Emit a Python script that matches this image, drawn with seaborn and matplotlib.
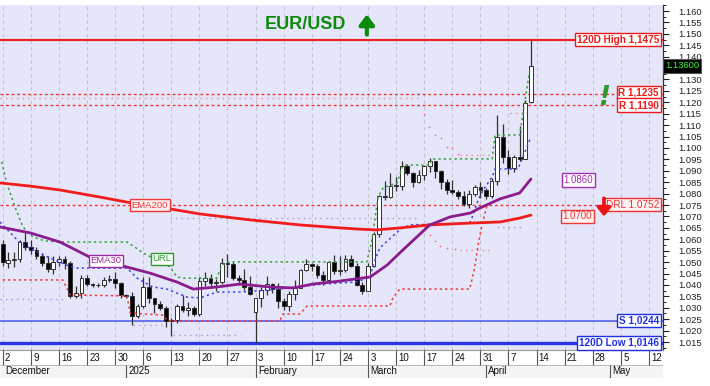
import numpy as np
import pandas as pd
import matplotlib
matplotlib.use("Agg")
import matplotlib.pyplot as plt
from matplotlib.transforms import blended_transform_factory
from matplotlib.ticker import MultipleLocator, FormatStrFormatter
import seaborn as sns

sns.set_style("white")
plt.rcParams['font.family'] = ['Liberation Sans', 'DejaVu Sans']

# ---------------- data ----------------
first_day = "2024-12-02"
last_axis_day = "2025-05-16"

opens = [1.0578, 1.0497, 1.0510, 1.0512, 1.0587, 1.0565, 1.0555, 1.0528, 1.0495, 1.0468,
         1.0502, 1.0512, 1.0494, 1.0352, 1.0364, 1.0430, 1.0406, 1.0398, 1.0400, 1.0422,
         1.0428, 1.0407, 1.0354, 1.0352, 1.0266, 1.0307, 1.0390, 1.0342, 1.0318, 1.0300,
         1.0244, 1.0245, 1.0308, 1.0290, 1.0300, 1.0273, 1.0417, 1.0430, 1.0410, 1.0414,
         1.0494, 1.0492, 1.0430, 1.0421, 1.0391, 1.0280, 1.0345, 1.0380, 1.0404, 1.0382,
         1.0330, 1.0307, 1.0360, 1.0387, 1.0465, 1.0490, 1.0485, 1.0445, 1.0420, 1.0500,
         1.0460, 1.0465, 1.0515, 1.0485, 1.0400, 1.0375, 1.0485, 1.0625, 1.0790, 1.0785,
         1.0835, 1.0833, 1.0920, 1.0890, 1.0852, 1.0880, 1.0920, 1.0942, 1.0900, 1.0852,
         1.0815, 1.0805, 1.0790, 1.0753, 1.0800, 1.0830, 1.0815, 1.0790, 1.0855, 1.1050,
         1.0960, 1.0912, 1.0962, 1.0952, 1.1200]
highs = [1.0595, 1.0545, 1.0545, 1.0595, 1.0630, 1.0595, 1.0565, 1.0540, 1.0525, 1.0525,
         1.0525, 1.0525, 1.0505, 1.0395, 1.0445, 1.0445, 1.0410, 1.0408, 1.0435, 1.0445,
         1.0455, 1.0415, 1.0360, 1.0370, 1.0315, 1.0435, 1.0435, 1.0345, 1.0330, 1.0310,
         1.0255, 1.0315, 1.0355, 1.0325, 1.0310, 1.0435, 1.0455, 1.0450, 1.0425, 1.0520,
         1.0535, 1.0500, 1.0445, 1.0470, 1.0440, 1.0345, 1.0390, 1.0440, 1.0410, 1.0410,
         1.0345, 1.0375, 1.0420, 1.0470, 1.0515, 1.0495, 1.0490, 1.0460, 1.0505, 1.0530,
         1.0525, 1.0530, 1.0530, 1.0495, 1.0415, 1.0495, 1.0630, 1.0795, 1.0855, 1.0890,
         1.0875, 1.0945, 1.0930, 1.0895, 1.0905, 1.0925, 1.0955, 1.0945, 1.0905, 1.0865,
         1.0860, 1.0815, 1.0810, 1.0815, 1.0840, 1.0850, 1.0825, 1.0870, 1.1145, 1.1105,
         1.0990, 1.0970, 1.1095, 1.1210, 1.1475]
lows = [1.0485, 1.0475, 1.0480, 1.0500, 1.0555, 1.0535, 1.0515, 1.0485, 1.0455, 1.0450,
        1.0485, 1.0470, 1.0345, 1.0345, 1.0345, 1.0395, 1.0390, 1.0392, 1.0390, 1.0412,
        1.0385, 1.0345, 1.0345, 1.0225, 1.0255, 1.0300, 1.0320, 1.0275, 1.0290, 1.0215,
        1.0178, 1.0235, 1.0280, 1.0265, 1.0265, 1.0265, 1.0395, 1.0395, 1.0375, 1.0405,
        1.0435, 1.0420, 1.0400, 1.0380, 1.0355, 1.0146, 1.0305, 1.0355, 1.0365, 1.0300,
        1.0290, 1.0285, 1.0335, 1.0385, 1.0460, 1.0460, 1.0430, 1.0400, 1.0415, 1.0450,
        1.0445, 1.0455, 1.0480, 1.0395, 1.0360, 1.0375, 1.0480, 1.0610, 1.0770, 1.0780,
        1.0810, 1.0815, 1.0880, 1.0830, 1.0845, 1.0860, 1.0895, 1.0870, 1.0820, 1.0800,
        1.0800, 1.0775, 1.0745, 1.0735, 1.0790, 1.0780, 1.0775, 1.0780, 1.0840, 1.0935,
        1.0885, 1.0895, 1.0945, 1.0950, 1.1195]
closes = [1.0500, 1.0510, 1.0512, 1.0587, 1.0567, 1.0555, 1.0528, 1.0495, 1.0468, 1.0502,
          1.0512, 1.0494, 1.0352, 1.0364, 1.0430, 1.0406, 1.0398, 1.0400, 1.0422, 1.0428,
          1.0407, 1.0354, 1.0352, 1.0266, 1.0307, 1.0390, 1.0342, 1.0318, 1.0300, 1.0244,
          1.0245, 1.0308, 1.0290, 1.0300, 1.0273, 1.0417, 1.0430, 1.0410, 1.0414, 1.0494,
          1.0492, 1.0430, 1.0421, 1.0391, 1.0362, 1.0345, 1.0380, 1.0404, 1.0382, 1.0330,
          1.0307, 1.0360, 1.0387, 1.0465, 1.0490, 1.0485, 1.0445, 1.0420, 1.0500, 1.0460,
          1.0465, 1.0515, 1.0485, 1.0400, 1.0375, 1.0485, 1.0625, 1.0790, 1.0785, 1.0835,
          1.0833, 1.0920, 1.0890, 1.0852, 1.0880, 1.0920, 1.0942, 1.0900, 1.0852, 1.0815,
          1.0805, 1.0790, 1.0753, 1.0800, 1.0830, 1.0815, 1.0790, 1.0855, 1.1050, 1.0960,
          1.0912, 1.0960, 1.0952, 1.1195, 1.1360]

# indicator curves (x = trading-day number from 2 Dec)
ema200_x = [-0.5, 4.9, 10.2, 17.3, 22.1, 29.8, 35.1, 44.0, 52.9, 60.0, 63.0, 66.5, 70.7, 76.0, 83.2, 88.5, 92.0, 94.0]
ema200_y = [1.0847, 1.0833, 1.0816, 1.0785, 1.0763, 1.0733, 1.0711, 1.0685, 1.0663, 1.0650, 1.0645, 1.0641, 1.0650,
            1.0663, 1.0671, 1.0676, 1.0693, 1.0706]
ema30_x = [-0.5, 4.9, 10.2, 15.5, 21.4, 26.2, 31.0, 33.9, 38.1, 42.2, 47.6, 51.7, 55.2, 60.0, 65.4, 68.4, 71.2,
           76.0, 79.6, 83.2, 84.9, 88.5, 92.0, 94.0]
ema30_y = [1.0654, 1.0628, 1.0588, 1.0522, 1.0483, 1.0452, 1.0413, 1.0382, 1.0391, 1.0404, 1.0391, 1.0387, 1.0404,
           1.0417, 1.0435, 1.0487, 1.0553, 1.0663, 1.0698, 1.0715, 1.0737, 1.0777, 1.0803, 1.0864]
url_x = [-0.2, 0.7, 2.2, 3.6, 5.4, 7.5, 10.2, 22.1, 23.5, 25.0, 28.0, 29.8, 31.0, 32.1, 38.1, 39.0, 40.1, 64.8,
         65.7, 66.8, 67.7, 70.2, 71.1, 71.6, 76.0, 76.4, 87.1, 87.6, 92.0, 92.9, 93.8]
url_y = [1.0939, 1.0847, 1.0741, 1.0654, 1.0610, 1.0593, 1.0588, 1.0588, 1.0566, 1.0540, 1.0501, 1.0479, 1.0435,
         1.0430, 1.0430, 1.0487, 1.0501, 1.0501, 1.0597, 1.0785, 1.0825, 1.0847, 1.0917, 1.0925, 1.0925, 1.0952,
         1.0952, 1.1057, 1.1057, 1.1201, 1.1342]
lrl_x = [-0.5, 3.1, 5.4, 8.4, 11.4, 13.2, 22.1, 23.9, 26.7, 29.2, 32.8, 35.1, 38.1, 42.2, 47.6, 52.4, 57.0, 63.0,
         65.4, 65.9, 67.1, 70.2, 71.2, 72.5, 83.1, 83.7, 84.6, 85.5, 87.1, 87.6, 91.7, 94.0]
lrl_y = [1.0676, 1.0584, 1.0553, 1.0518, 1.0487, 1.0474, 1.0474, 1.0430, 1.0391, 1.0382, 1.0347, 1.0343, 1.0369,
         1.0369, 1.0378, 1.0391, 1.0404, 1.0413, 1.0435, 1.0487, 1.0562, 1.0632, 1.0650, 1.0663, 1.0671, 1.0706,
         1.0772, 1.0816, 1.0873, 1.0908, 1.0908, 1.1048]
stop_x = [0.0, 10.7, 12.0, 22.1, 22.7, 28.5, 29.4, 49.3, 49.9, 52.9, 54.2, 68.9, 69.5, 70.7, 83.1, 83.9, 84.6,
          85.3, 86.2]
stop_y = [1.0422, 1.0422, 1.0356, 1.0352, 1.0277, 1.0268, 1.0242, 1.0242, 1.0273, 1.0273, 1.0308, 1.0308, 1.0347,
          1.0382, 1.0382, 1.0466, 1.0575, 1.0663, 1.0750]
pivot_start = [-0.5, 29.8, -0.5, 23.2, 30.3, 81.4, 87.9, 81.4, 90.3]
pivot_end = [74.3, 74.3, 10.7, 28.5, 42.2, 87.2, 92.4, 86.7, 92.4]
pivot_price = [1.1220, 1.0692, 1.0339, 1.0225, 1.0181, 1.0553, 1.0654, 1.0970, 1.1153]
pivot_kind = ["r", "v", "v", "v", "v", "r", "v", "r", "r"]
trail_x = [75.0, 75.9, 76.9, 78.0, 79.1, 79.9, 81.0, 75.2, 76.0, 76.9, 77.8, 79.1, 80.5]
trail_y = [1.1149, 1.1092, 1.1057, 1.1044, 1.1004, 1.1000, 1.0974, 1.0654, 1.0619, 1.0593, 1.0571, 1.0562, 1.0558]

high_120d = 1.1475
res_1 = 1.1235
res_2 = 1.1190
drl = 1.0752
support = 1.0244
low_120d = 1.0146
last_price = 1.1360
ema30_last = 1.0860
ema200_last = 1.0700
month_names = ["December", "2025", "February", "March", "April", "May"]

# ---------------- figure ----------------
W, H = 710, 386
fig = plt.figure(figsize=(W / 100, H / 100), dpi=100)
fig.patch.set_facecolor("white")


def rect(x0, y0, x1, y1):
    return [x0 / W, 1 - y1 / H, (x1 - x0) / W, (y1 - y0) / H]


RIGHT = 663
ax = fig.add_axes(rect(0, 5, RIGHT, 350))
ax.set_facecolor("#E6E6FA")
XL = (-0.48, 117.5)
ax.set_xlim(*XL)
ax.set_ylim(1.01151, 1.16263)

cal = pd.bdate_range(first_day, last_axis_day)
mondays = [i for i, d in enumerate(cal) if d.weekday() == 0]
month_starts = [0] + [i for i in range(1, len(cal)) if cal[i].month != cal[i - 1].month]

ax.set_xticks(mondays)
ax.tick_params(axis="x", length=0, labelbottom=False)
ax.grid(axis="x", color="#C2C2CC", ls=(0, (3, 3)), lw=0.8)
ax.grid(axis="y", visible=False)

ax.yaxis.tick_right()
ax.set_yticks(np.round(np.arange(1.015, 1.1601, 0.005), 3))
ax.yaxis.set_major_formatter(FormatStrFormatter("%.3f"))
ax.yaxis.set_minor_locator(MultipleLocator(0.0025))
ax.tick_params(axis="y", which="major", length=4, width=0.8, pad=7, labelsize=6.8, colors="#222222", right=True)
ax.tick_params(axis="y", which="minor", length=2.5, width=0.7, colors="#222222", right=True)
for s in ["left", "top"]:
    ax.spines[s].set_visible(False)
ax.spines["right"].set_color("#333333")
ax.spines["right"].set_linewidth(0.9)
ax.spines["bottom"].set_color("#999999")
ax.spines["bottom"].set_linewidth(0.8)

# faint pivot levels
kcol = {"r": "#F08888", "v": "#B48CDC"}
for s0, s1, p, k in zip(pivot_start, pivot_end, pivot_price, pivot_kind):
    ax.plot([s0, s1], [p, p], color=kcol[k], ls=(0, (1, 3)), lw=1.0, zorder=2)
ax.scatter(trail_x, trail_y, s=1.5, color="#F07070", zorder=2, linewidths=0)

# horizontal levels
ax.axhline(high_120d, color="#EE1C1C", lw=1.5, zorder=3)
ax.axhline(res_1, color="#EE3333", lw=1.0, ls=(0, (2, 2)), zorder=3)
ax.axhline(res_2, color="#EE3333", lw=1.0, ls=(0, (2, 2)), zorder=3)
ax.axhline(drl, color="#EE3333", lw=1.0, ls=(0, (2, 2)), zorder=3)
ax.axhline(support, color="#4A55F0", lw=1.1, zorder=3)
ax.axhline(low_120d, color="#2A35E8", lw=2.4, zorder=3)

# candles
o = np.array(opens); h = np.array(highs); l = np.array(lows); c = np.array(closes)
xi = np.arange(len(c))
up = c >= o
ax.vlines(xi, l, h, color="#303030", lw=0.9, zorder=4)
ax.bar(xi, np.maximum(np.abs(c - o), 0.0003), bottom=np.minimum(o, c), width=0.66,
       color=np.where(up, "white", "black"), edgecolor="#303030", linewidth=0.7, zorder=5)

# channel / stop lines
sns.lineplot(x=url_x, y=url_y, ax=ax, color="#3A9E3A", lw=1.1, ls=(0, (1.5, 2)), sort=False,
             estimator=None, zorder=6)
sns.lineplot(x=lrl_x, y=lrl_y, ax=ax, color="#3A48E8", lw=1.1, ls=(0, (1.5, 2)), sort=False,
             estimator=None, zorder=6)
sns.lineplot(x=stop_x, y=stop_y, ax=ax, color="#EE3838", lw=1.1, ls=(0, (1.5, 2)), sort=False,
             estimator=None, zorder=6)
# moving averages
sns.lineplot(x=ema200_x, y=ema200_y, ax=ax, color="#F21C1C", lw=2.0, sort=False, estimator=None, zorder=7)
sns.lineplot(x=ema30_x, y=ema30_y, ax=ax, color="#8B1C8E", lw=2.0, sort=False, estimator=None, zorder=7)

blend = blended_transform_factory(ax.transAxes, ax.transData)


def tag(xfrac, y, text, color, fc="white", weight="bold", fs=7.2, ha="right", trans=blend, tc=None):
    ax.text(xfrac, y, text, transform=trans, ha=ha, va="center", fontsize=fs, fontweight=weight,
            color=tc or color, zorder=12, clip_on=False,
            bbox=dict(boxstyle="square,pad=0.18", fc=fc, ec=color, lw=1.0))


rx = 659 / RIGHT
tag(rx, high_120d, f"120D High {high_120d:.4f}".replace(".", ","), "#F01818")
tag(rx, res_1 + 0.0008, f"R {res_1:.4f}".replace(".", ","), "#F01818")
tag(rx, res_2 - 0.0003, f"R {res_2:.4f}".replace(".", ","), "#F01818")
tag(rx, drl, f"DRL {drl:.4f}", "#F03030", fc="#FFF2F2", weight="normal")
tag(rx, support, f"S {support:.4f}".replace(".", ","), "#2030E8")
tag(rx, low_120d, f"120D Low {low_120d:.4f}".replace(".", ","), "#2030E8")
tag(102.4, ema30_last, f"{ema30_last:.4f}", "#A030B0", weight="normal", fs=7, ha="center", trans=ax.transData)
tag(102.2, ema200_last, f"{ema200_last:.4f}", "#F03838", fc="#FFF0F0", weight="normal", fs=7, ha="center",
    trans=ax.transData)
tag(26.2, drl - 0.0002, "EMA200", "#F03838", fc="#FFF0F0", weight="normal", fs=6.8, ha="center",
    trans=ax.transData)
tag(18.4, 1.0505, "EMA30", "#9A2A9E", weight="normal", fs=6.8, ha="center", trans=ax.transData)
tag(28.3, 1.0514, "URL", "#2E9A2E", weight="normal", fs=6.8, ha="center", trans=ax.transData)

# last price marker on the axis
ax.text(1.0 + 2 / RIGHT, last_price, f"{last_price:.5f}", transform=blend, ha="left", va="center",
        fontsize=6.8, color="#33FF33", zorder=20, clip_on=False,
        bbox=dict(boxstyle="square,pad=0.25", fc="black", ec="#555555", lw=0.8))

# title and signals
ax.text(53.8, 1.1539, "EUR/USD", ha="center", va="center", fontsize=13, fontweight="bold", color="#0B8A0B",
        zorder=12)
ax.annotate("", xy=(64.8, 1.1585), xytext=(64.8, 1.1497),
            arrowprops=dict(arrowstyle="-|>,head_width=0.45,head_length=0.6", color="#0B8A0B", lw=3.0,
                            shrinkA=0, shrinkB=0), zorder=12)
ax.annotate("", xy=(107.0, 1.0700), xytext=(107.0, 1.0780),
            arrowprops=dict(arrowstyle="-|>,head_width=0.4,head_length=0.5", color="#EE1111", lw=2.6,
                            shrinkA=0, shrinkB=0), zorder=12)
ax.text(107.0, 1.1218, "!", ha="center", va="center", fontsize=19, fontweight="heavy", fontstyle="italic",
        color="#2E9A2E", zorder=12, family=["DejaVu Sans"])

# ---------------- date axis ----------------
axd = fig.add_axes(rect(0, 350, RIGHT, 378))
axd.set_xlim(*XL)
axd.set_ylim(378, 350)
axd.axis("off")
axd.axhspan(365, 378, color="#F4F4F4", zorder=0)
axd.axhline(365, color="#BBBBBB", lw=0.7)
axd.axhline(377.5, color="#BBBBBB", lw=0.7)
for m in mondays:
    axd.vlines(m, 350, 365, color="#555555", lw=0.8)
    axd.text(m + 0.4, 358, str(cal[m].day), ha="left", va="center", fontsize=7, color="#111111")
for k, ms in enumerate(month_starts):
    if ms > 0:
        axd.vlines(ms, 365, 377.5, color="#555555", lw=0.8)
    axd.text(ms + 0.4, 371.5, month_names[k], ha="left", va="center", fontsize=7, color="#111111")

fig.savefig("out.png", dpi=100)
